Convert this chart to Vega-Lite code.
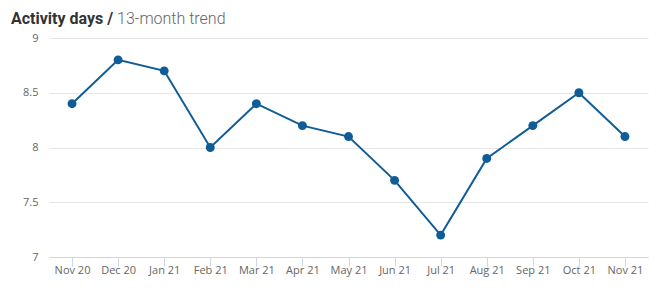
{
  "$schema": "https://vega.github.io/schema/vega-lite/v6.json",
  "width": 599,
  "height": 219,
  "autosize": {"type": "none"},
  "padding": {"left": 49, "top": 38, "right": 9, "bottom": 32},
  "background": "white",
  "title": {
    "text": "Activity days /",
    "subtitle": "\u200b\u2003\u2003\u2003\u2003\u2003\u2003\u200213-month trend",
    "anchor": "start",
    "frame": "group",
    "dx": -38,
    "offset": 5,
    "font": "Roboto",
    "fontSize": 16,
    "fontWeight": 700,
    "color": "#333333",
    "subtitleFont": "Roboto",
    "subtitleFontSize": 16,
    "subtitleFontWeight": 300,
    "subtitleColor": "#666666",
    "subtitlePadding": -16
  },
  "data": {
    "values": [
      {"month": "Nov 20", "days": 8.4},
      {"month": "Dec 20", "days": 8.8},
      {"month": "Jan 21", "days": 8.7},
      {"month": "Feb 21", "days": 8.0},
      {"month": "Mar 21", "days": 8.4},
      {"month": "Apr 21", "days": 8.2},
      {"month": "May 21", "days": 8.1},
      {"month": "Jun 21", "days": 7.7},
      {"month": "Jul 21", "days": 7.2},
      {"month": "Aug 21", "days": 7.9},
      {"month": "Sep 21", "days": 8.2},
      {"month": "Oct 21", "days": 8.5},
      {"month": "Nov 21", "days": 8.1}
    ]
  },
  "encoding": {
    "x": {
      "field": "month",
      "type": "ordinal",
      "sort": null,
      "scale": {"type": "point", "padding": 0.5},
      "axis": {
        "title": null,
        "labelAngle": 0,
        "labelFont": "Open Sans",
        "labelFontSize": 11,
        "labelColor": "#666666",
        "labelPadding": -2,
        "domainColor": "#ccd6eb",
        "tickColor": "#ccd6eb",
        "tickSize": 9,
        "grid": false
      }
    },
    "y": {
      "field": "days",
      "type": "quantitative",
      "scale": {"domain": [7, 9], "nice": false, "zero": false},
      "axis": {
        "title": null,
        "values": [7, 7.5, 8, 8.5, 9],
        "format": "~g",
        "labelFont": "Open Sans",
        "labelFontSize": 11,
        "labelColor": "#666666",
        "labelPadding": 11,
        "domain": false,
        "ticks": false,
        "gridColor": "#e6e6e6"
      }
    }
  },
  "layer": [
    {"mark": {"type": "line", "color": "#0f5c96", "strokeWidth": 2}},
    {"mark": {"type": "point", "filled": true, "color": "#0f5c96", "size": 80, "opacity": 1}}
  ],
  "config": {"view": {"stroke": null}}
}
